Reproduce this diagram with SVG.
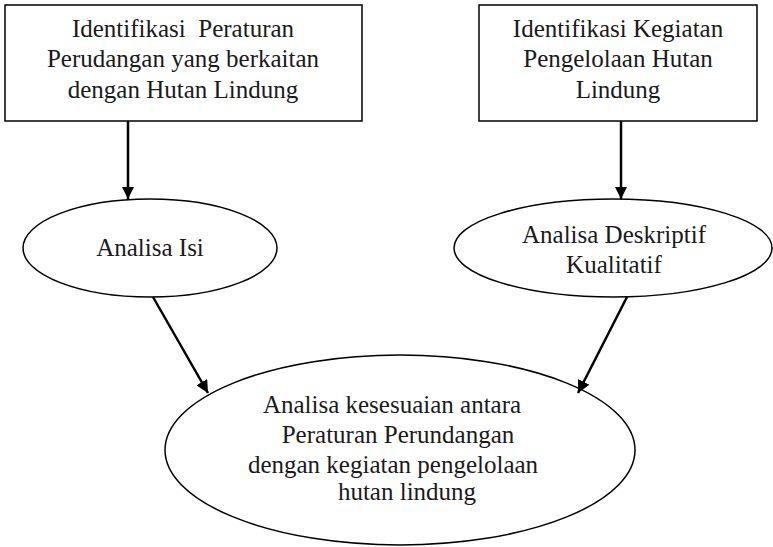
<svg xmlns="http://www.w3.org/2000/svg" width="773" height="547" viewBox="0 0 773 547">
<style>
.n{fill:#fff;stroke:#000;stroke-width:1.5}
.t{font-family:"Liberation Serif","Times New Roman",serif;font-size:25px;fill:#1a1a1a;text-anchor:middle}
.c{stroke:#000;stroke-width:2.5;fill:none;marker-end:url(#ah)}
</style>
<defs>
<marker id="ah" viewBox="0 0 10 10" refX="10" refY="5" markerWidth="5" markerHeight="5" markerUnits="strokeWidth" orient="auto">
<path d="M0,0 L10,5 L0,10 z" fill="#000"/>
</marker>
</defs>
<rect width="773" height="547" fill="#fff"/>
<g id="box1">
<rect class="n" x="5" y="5" width="357" height="116"/>
<text class="t" x="183" y="37" xml:space="preserve">Identifikasi  Peraturan</text>
<text class="t" x="183" y="67">Perudangan yang berkaitan</text>
<text class="t" x="183" y="98">dengan Hutan Lindung</text>
</g>
<g id="box2">
<rect class="n" x="479" y="5" width="278" height="116"/>
<text class="t" x="618" y="37">Identifikasi Kegiatan</text>
<text class="t" x="618" y="67">Pengelolaan Hutan</text>
<text class="t" x="618" y="98">Lindung</text>
</g>
<g id="ell1">
<ellipse class="n" cx="150" cy="248" rx="127" ry="49"/>
<text class="t" x="150" y="256">Analisa Isi</text>
</g>
<g id="ell2">
<ellipse class="n" cx="613" cy="248" rx="159" ry="49"/>
<text class="t" x="614" y="243">Analisa Deskriptif</text>
<text class="t" x="614" y="273">Kualitatif</text>
</g>
<g id="ell3">
<ellipse class="n" cx="400" cy="450" rx="235" ry="95"/>
<text class="t" x="392" y="413">Analisa kesesuaian antara</text>
<text class="t" x="398" y="443">Peraturan Perundangan</text>
<text class="t" x="393" y="473">dengan kegiatan pengelolaan</text>
<text class="t" x="407" y="500">hutan lindung</text>
</g>
<g id="connectors">
<line class="c" x1="128" y1="121" x2="128" y2="199"/>
<line class="c" x1="621" y1="121" x2="621" y2="199"/>
<line class="c" x1="153" y1="297" x2="208" y2="393"/>
<line class="c" x1="627" y1="297" x2="578" y2="393"/>
</g>
</svg>
